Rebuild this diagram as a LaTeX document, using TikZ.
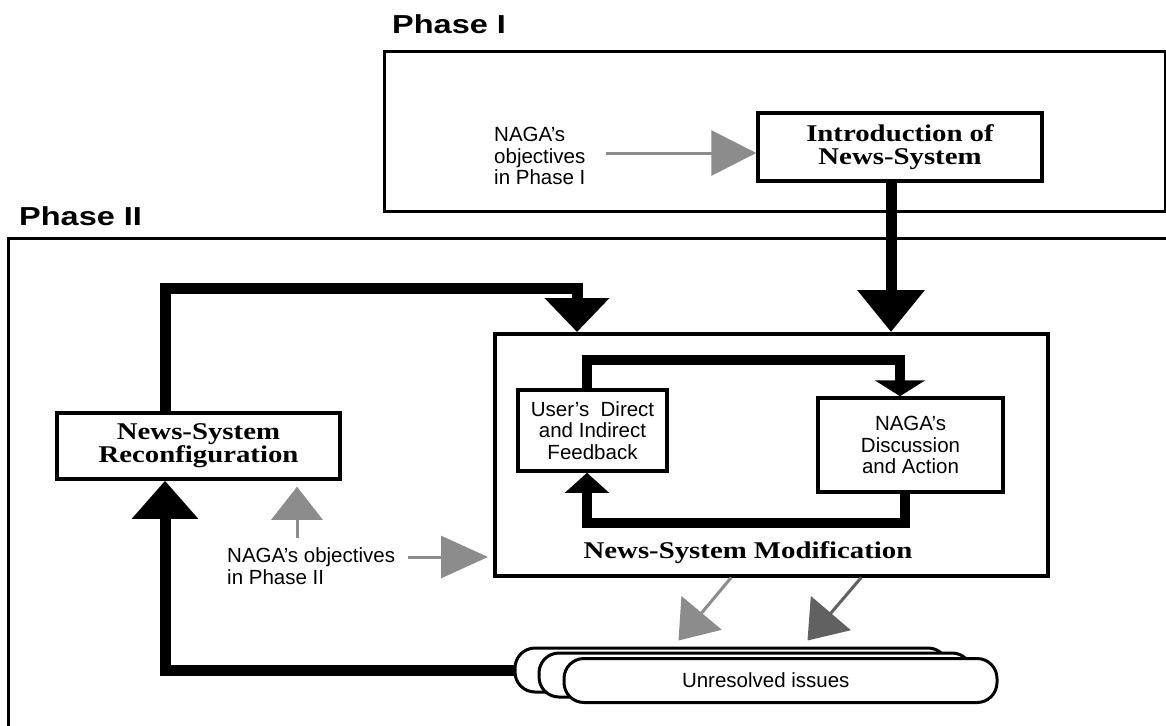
\documentclass[tikz,border=0pt]{standalone}
\usepackage{fontspec}
\usetikzlibrary{arrows.meta}
\setmainfont{Liberation Sans}
\newfontfamily\serifwide[FakeStretch=1.2]{Liberation Serif}
\newfontfamily\sanswide[FakeStretch=1.25]{Liberation Sans}
\newcommand\phasefont{\sanswide\bfseries\fontsize{26}{30}\selectfont}
\newcommand\notefont{\fontsize{20.5}{21.5}\selectfont}
\newcommand\boxserif{\serifwide\bfseries\fontsize{24}{23}\selectfont}
\newcommand\titleserif{\serifwide\bfseries\fontsize{24}{28}\selectfont}
\definecolor{hintgray}{gray}{0.55}
\definecolor{hintdark}{gray}{0.38}
\tikzset{
	frame/.style={draw, line width=3pt},
	box/.style={draw, line width=3.5pt, fill=white, inner sep=0pt, align=center},
	note/.style={font=\notefont, align=left, inner sep=0pt},
	card/.style={draw, line width=3pt, rounded corners=20pt, fill=white, inner sep=0pt, minimum width=433pt, minimum height=44pt},
	loop/.style={line width=11pt},
	inner/.style={line width=10pt},
	hint/.style={line width=3pt, draw=hintgray}
}
\begin{document}
\begin{tikzpicture}[x=1pt,y=-1pt]
				\useasboundingbox (0,0) rectangle (1166,725);
				\node[font=\phasefont, anchor=west, inner sep=0pt] (phaseIlbl) at (392,24) {Phase I};
				\node[font=\phasefont, anchor=west, inner sep=0pt] (phaseIIlbl) at (19,216) {Phase II};
				\node[frame, anchor=north west, minimum width=781pt, minimum height=160pt] (phaseI) at (383,50) {};
				\draw[frame] (1172,238) -- (8,238) -- (8,732);
				\node[box, font=\boxserif, minimum width=284pt, minimum height=68pt] (intro) at (900,147) {Introduction of\\News-System};
				\node[note, anchor=west] (objI) at (494,156) {NAGA's\\objectives\\in Phase I};
				\node[box, anchor=north west, minimum width=553pt, minimum height=242pt] (mod) at (493,332) {};
				\node[font=\titleserif] (modlbl) at (748,553) {News-System Modification};
				\node[box, font=\notefont, minimum width=149pt, minimum height=81pt] (fb) at (592.5,430.5) {User's~ Direct\\and Indirect\\Feedback};
				\node[box, font=\notefont, minimum width=185pt, minimum height=94pt] (act) at (910.5,445) {NAGA's\\Discussion\\and Action};
				\node[box, font=\boxserif, minimum width=283pt, minimum height=66pt] (recon) at (198.5,446) {News-System\\Reconfiguration};
				\node[note, anchor=west] (objII) at (227,566) {NAGA's objectives\\in Phase II};
				\node[card] (back) at (731.5,670) {};
				\node[card] (middle) at (755.5,675) {};
				\node[card, font=\notefont] (issues) at (780.5,680.5) {\makebox[433pt][l]{\hspace{118pt}Unresolved issues}};
				\coordinate (loopL) at (165,667);
				\coordinate (loopT) at (577,288);
				\coordinate (innerT) at (900,360);
				\coordinate (innerB) at (905,523);
				\coordinate (innerL) at (587,0);
				\draw[loop, -{Triangle[width=65pt,length=42pt]}] (intro.south -| 891,0) to (mod.north -| 891,0);
				\draw[loop, -{Triangle[width=63pt,length=34pt]}] (recon.north -| loopL) |- (loopT) to (loopT |- mod.north);
				\draw[loop, -{Triangle[width=64pt,length=38pt]}] (back.west) -| (recon.south -| loopL);
				\draw[inner, -{Triangle[width=50pt,length=16pt]}] (fb.north -| innerL) |- (innerT) to (innerT |- act.north);
				\draw[inner, -{Triangle[width=43pt,length=20pt]}] (act.south -| innerB) |- (innerB) -| (fb.south -| innerL);
				\draw[hint, -{Triangle[width=45pt,length=45pt]}] ([xshift=20pt,yshift=3pt]objI.east) to ([yshift=3pt]objI.east -| intro.west);
				\draw[hint, shorten >=5pt, -{Triangle[width=42pt,length=47pt]}] ([xshift=13pt,yshift=9pt]objII.east) to ([yshift=9pt]objII.east -| mod.west);
				\draw[hint, shorten >=6pt, -{Triangle[width=51pt,length=33pt]}] ([xshift=70pt,yshift=10pt]objII.north west) to ([xshift=70pt]objII.north west |- recon.south);
				\draw[hint, -{Triangle[width=52pt,length=36pt]}] ([xshift=-40pt]mod.south) to ([xshift=-53pt,yshift=6pt]back.north);
				\draw[hint, draw=hintdark, -{Triangle[width=52pt,length=36pt]}] ([xshift=90pt]mod.south) to ([xshift=76pt,yshift=6pt]back.north);
			\end{tikzpicture}
\end{document}
